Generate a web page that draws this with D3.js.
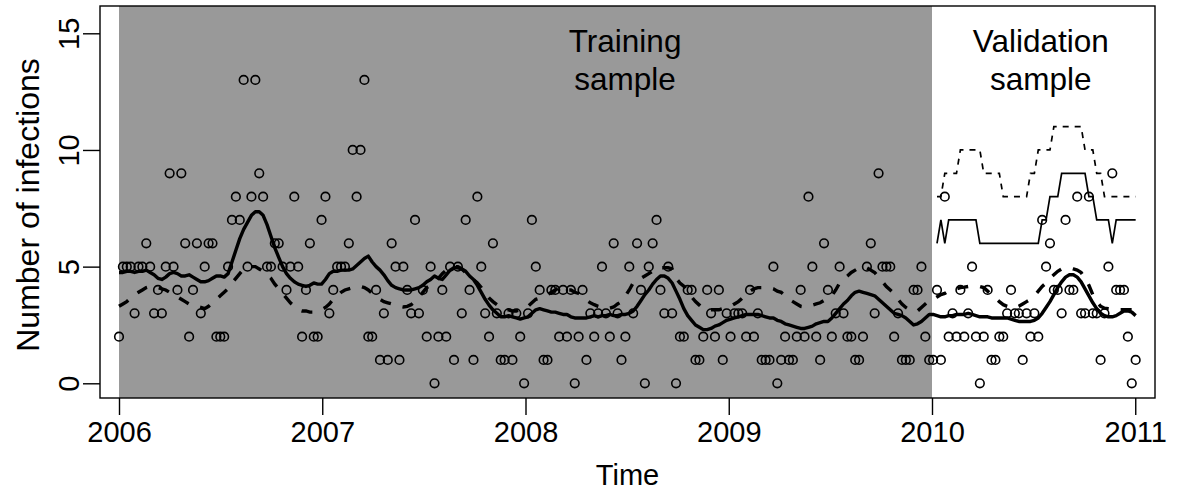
<!DOCTYPE html>
<html>
<head>
<meta charset="utf-8">
<script src="https://cdn.jsdelivr.net/npm/d3@7"></script>
<style>
  body { margin: 0; background: #fff; }
  text { font-family: "Liberation Sans", Arial, Helvetica, sans-serif; fill: #000; }
</style>
</head>
<body>
<svg id="chart" width="1178" height="490"></svg>
<script>
// Weekly series, week 0 = first week of 2006
const startYear = 2006;

// Observed weekly number of infections
const counts = [
  2,5,5,5,3,5,5,6,5,3,
  4,3,5,9,5,4,9,6,2,4,
  6,3,5,6,6,2,2,2,5,7,
  8,7,13,5,8,13,9,8,5,5,
  6,6,5,4,5,8,5,2,4,6,
  2,2,7,8,3,4,5,5,5,6,
  10,8,10,13,2,2,4,1,3,1,
  6,5,1,5,4,3,7,3,4,2,
  5,0,2,4,2,5,1,5,3,7,
  4,1,8,5,3,2,6,3,1,1,
  3,1,3,2,0,3,7,5,4,1,
  1,4,4,2,4,2,4,0,2,4,
  1,3,2,3,5,3,2,6,3,1,
  2,5,3,6,4,0,5,6,7,4,
  3,5,3,0,2,2,4,4,1,1,
  2,4,3,2,4,1,3,2,3,3,
  3,2,4,2,3,1,1,1,5,0,
  1,2,1,1,2,4,2,8,5,2,
  1,6,4,2,3,5,3,2,2,1,
  1,2,5,6,3,9,5,5,5,2,
  3,1,1,1,4,4,5,2,1,1,
  4,1,8,2,3,2,4,2,3,5,
  2,0,2,4,1,1,2,2,3,4,
  3,3,1,3,2,3,2,7,5,6,
  4,4,3,7,4,4,8,3,3,8,
  3,3,1,3,5,9,4,4,4,2,
  0,1
];

// Fitted mean (thick solid line)
const fittedMean = [
  4.75,4.75,4.8,4.8,4.75,4.8,4.8,4.85,4.75,4.65,
  4.5,4.45,4.55,4.7,4.75,4.7,4.6,4.6,4.65,4.55,
  4.45,4.35,4.35,4.4,4.5,4.6,4.6,4.55,4.7,5.2,
  5.7,6.2,6.6,6.9,7.2,7.35,7.35,7.2,6.8,6.3,
  5.8,5.4,5.0,4.7,4.5,4.35,4.25,4.2,4.15,4.2,
  4.3,4.25,4.25,4.45,4.7,4.8,4.8,4.85,4.85,4.85,
  4.9,5.05,5.2,5.35,5.45,5.2,5.0,4.85,4.65,4.4,
  4.2,4.1,4.05,4.0,4.0,4.0,4.05,4.1,4.2,4.35,
  4.45,4.6,4.5,4.45,4.65,4.85,4.95,4.95,4.9,4.8,
  4.6,4.45,4.2,3.9,3.6,3.35,3.15,3.0,2.85,2.85,
  2.9,2.85,2.8,2.75,2.8,2.85,3.0,3.15,3.2,3.15,
  3.1,3.05,3.05,3.0,2.95,2.95,2.85,2.8,2.8,2.8,
  2.8,2.85,2.9,2.85,2.9,2.9,2.95,2.9,2.9,2.95,
  2.95,3.0,3.1,3.3,3.55,3.8,4.0,4.25,4.45,4.6,
  4.6,4.5,4.3,3.95,3.6,3.2,2.9,2.7,2.5,2.4,
  2.3,2.3,2.35,2.45,2.5,2.6,2.7,2.75,2.8,2.85,
  2.9,2.95,2.95,2.95,2.95,2.9,2.85,2.8,2.8,2.7,
  2.65,2.55,2.5,2.45,2.4,2.35,2.35,2.4,2.45,2.55,
  2.6,2.65,2.65,2.8,3.0,3.2,3.4,3.55,3.75,3.9,
  3.95,3.9,3.85,3.8,3.75,3.6,3.45,3.3,3.15,3.0,
  2.95,2.9,2.8,2.65,2.5,2.55,2.65,2.8,2.95,2.95,
  2.9,2.85,2.85,2.9,2.9,2.95,2.95,2.95,3.0,2.95,
  2.9,2.85,2.85,2.85,2.8,2.8,2.8,2.8,2.8,2.75,
  2.7,2.65,2.65,2.65,2.65,2.7,2.8,3.0,3.25,3.5,
  3.8,4.1,4.35,4.55,4.65,4.65,4.55,4.35,4.05,3.75,
  3.45,3.2,3.0,2.9,2.85,2.85,2.9,3.0,3.1,3.1,
  3.05,2.9
];

// Endemic component (thick dashed line)
const endemicMean = [
  3.3,3.4,3.5,3.65,3.8,3.9,4.0,4.1,4.15,4.15,
  4.1,4.05,4.0,3.9,3.8,3.7,3.6,3.5,3.4,3.35,
  3.3,3.25,3.2,3.3,3.45,3.6,3.75,3.9,4.05,4.3,
  4.5,4.7,4.9,5.0,5.0,5.0,4.9,4.8,4.65,4.5,
  4.25,4.05,3.85,3.65,3.45,3.3,3.15,3.1,3.1,3.05,
  3.05,3.1,3.15,3.25,3.4,3.6,3.75,3.9,4.0,4.05,
  4.1,4.15,4.15,4.1,4.0,3.85,3.7,3.6,3.5,3.45,
  3.4,3.35,3.3,3.27,3.3,3.37,3.5,3.7,3.9,4.1,
  4.2,4.35,4.5,4.7,4.85,4.95,5.0,5.0,4.9,4.75,
  4.6,4.45,4.3,4.1,3.85,3.65,3.5,3.37,3.25,3.15,
  3.15,3.1,3.1,3.15,3.2,3.3,3.45,3.6,3.65,3.7,
  3.8,3.9,4.0,4.1,4.05,4.0,4.0,3.9,3.85,3.7,
  3.55,3.45,3.37,3.3,3.25,3.2,3.22,3.27,3.4,3.5,
  3.75,4.0,4.3,4.4,4.5,4.6,4.7,4.8,4.95,4.95,
  4.95,4.95,4.9,4.5,4.3,4.16,3.95,3.7,3.5,3.35,
  3.2,3.15,3.15,3.15,3.15,3.2,3.25,3.3,3.4,3.5,
  3.65,3.8,3.95,4.05,4.1,4.1,4.1,4.1,4.05,3.95,
  3.9,3.75,3.6,3.5,3.4,3.3,3.27,3.3,3.35,3.4,
  3.45,3.55,3.65,3.75,4.0,4.3,4.45,4.6,4.75,4.85,
  4.95,5.0,4.95,4.85,4.75,4.55,4.35,4.15,4.0,3.85,
  3.6,3.4,3.25,3.15,3.08,3.1,3.25,3.4,3.55,3.6,
  3.7,3.8,3.85,3.95,4.0,4.05,4.1,4.12,4.15,4.15,
  4.15,4.15,4.1,3.95,3.8,3.65,3.5,3.37,3.3,3.25,
  3.22,3.3,3.4,3.5,3.6,3.75,3.95,4.15,4.3,4.5,
  4.65,4.8,4.9,4.95,4.95,4.9,4.85,4.75,4.5,4.2,
  3.8,3.5,3.3,3.22,3.2,3.18,3.17,3.15,3.15,3.15,
  3.15,3.15
];

// Predictive upper quantiles for the validation weeks
const forecastStartWeek = 210;
const upperQuantile = [
  6,7,6,7,7,7,7,7,7,7,7,6,
  6,6,6,6,6,6,6,6,6,6,6,6,6,6,6,
  7,7,8,8,8,9,9,9,9,9,9,9,
  8,8,7,7,7,7,6,7,7,7,7,7,7
];
const outerQuantile = [
  8,8,9,9,9,9,10,10,10,10,10,10,
  9,9,9,9,9,8,8,8,8,8,8,8,9,9,
  10,10,10,10,11,11,11,11,11,11,11,11,
  10,10,10,9,9,8,8,8,8,8,8,8,8,8
];

const xTicks = [2006, 2007, 2008, 2009, 2010, 2011];
const yTicks = [0, 5, 10, 15];
const trainingPeriod = [2006, 2010];
const periodLabels = [["Training", "sample"], ["Validation", "sample"]];

// ---- layout ----
const svg = d3.select("#chart");
const box = { left: 100, right: 1155, top: 6, bottom: 398 };

const x = d3.scaleLinear().domain([2005.9065, 2011.0972]).range([box.left, box.right]);
const y = d3.scaleLinear().domain([-0.63, 16.17]).range([box.bottom, box.top]);
const weekTime = k => startYear + k * 7 / 365.25;

svg.append("defs").append("clipPath").attr("id", "plotClip")
  .append("rect")
  .attr("x", box.left).attr("y", box.top)
  .attr("width", box.right - box.left).attr("height", box.bottom - box.top);

const plot = svg.append("g").attr("clip-path", "url(#plotClip)");

// shaded training period
plot.append("rect")
  .attr("x", x(trainingPeriod[0]))
  .attr("y", box.top)
  .attr("width", x(trainingPeriod[1]) - x(trainingPeriod[0]))
  .attr("height", box.bottom - box.top)
  .attr("fill", "#999999");

// observed counts
plot.append("g").selectAll("circle")
  .data(counts)
  .join("circle")
  .attr("cx", (d, i) => x(weekTime(i)))
  .attr("cy", d => y(d))
  .attr("r", 4.3)
  .attr("fill", "none")
  .attr("stroke", "#000")
  .attr("stroke-width", 1.6);

const weekLine = offset => d3.line()
  .x((d, i) => x(weekTime(i + offset)))
  .y(d => y(d));

plot.append("path")
  .datum(endemicMean)
  .attr("d", weekLine(0))
  .attr("fill", "none").attr("stroke", "#000")
  .attr("stroke-width", 3.4)
  .attr("stroke-dasharray", "11,12");

plot.append("path")
  .datum(fittedMean)
  .attr("d", weekLine(0))
  .attr("fill", "none").attr("stroke", "#000")
  .attr("stroke-width", 3.4)
  .attr("stroke-linejoin", "round");

plot.append("path")
  .datum(upperQuantile)
  .attr("d", weekLine(forecastStartWeek))
  .attr("fill", "none").attr("stroke", "#000")
  .attr("stroke-width", 1.7);

plot.append("path")
  .datum(outerQuantile)
  .attr("d", weekLine(forecastStartWeek))
  .attr("fill", "none").attr("stroke", "#000")
  .attr("stroke-width", 1.7)
  .attr("stroke-dasharray", "6,6");

// period labels, two lines each
const labelAt = [2008.49, 2010.535];
const labelSize = 31.5;
periodLabels.forEach((lines, j) => {
  lines.forEach((txt, k) => {
    svg.append("text")
      .attr("x", x(labelAt[j]))
      .attr("y", 51.7 + k * labelSize * 1.2)
      .attr("text-anchor", "middle")
      .style("font-size", labelSize + "px")
      .text(txt);
  });
});

// frame
svg.append("rect")
  .attr("x", box.left).attr("y", box.top)
  .attr("width", box.right - box.left).attr("height", box.bottom - box.top)
  .attr("fill", "none").attr("stroke", "#000").attr("stroke-width", 1.4);

// x axis
const gx = svg.append("g")
  .attr("transform", `translate(0,${box.bottom})`)
  .call(d3.axisBottom(x).tickValues(xTicks).tickSize(17).tickFormat(d3.format("d")));
gx.select(".domain").remove();
gx.selectAll(".tick line").attr("stroke", "#000").attr("stroke-width", 1.4);
gx.selectAll(".tick text")
  .attr("y", 43.7).attr("dy", null)
  .attr("fill", "#000")
  .style("font-size", "29px")
  .style("font-family", '"Liberation Sans", Arial, sans-serif');

// y axis
const gy = svg.append("g")
  .attr("transform", `translate(${box.left},0)`)
  .call(d3.axisLeft(y).tickValues(yTicks).tickSize(17));
gy.select(".domain").remove();
gy.selectAll(".tick line").attr("stroke", "#000").attr("stroke-width", 1.4);
gy.selectAll(".tick text")
  .attr("x", null).attr("dy", null)
  .attr("transform", "translate(-21.5,0) rotate(-90)")
  .attr("text-anchor", "middle")
  .attr("fill", "#000")
  .style("font-size", "29px")
  .style("font-family", '"Liberation Sans", Arial, sans-serif');

// axis titles
svg.append("text")
  .attr("x", (box.left + box.right) / 2)
  .attr("y", 485)
  .attr("text-anchor", "middle")
  .style("font-size", "29px")
  .text("Time");

svg.append("text")
  .attr("transform", `translate(39,${(box.top + box.bottom) / 2 + 3}) rotate(-90)`)
  .attr("text-anchor", "middle")
  .style("font-size", "32px")
  .text("Number of infections");
</script>
</body>
</html>
